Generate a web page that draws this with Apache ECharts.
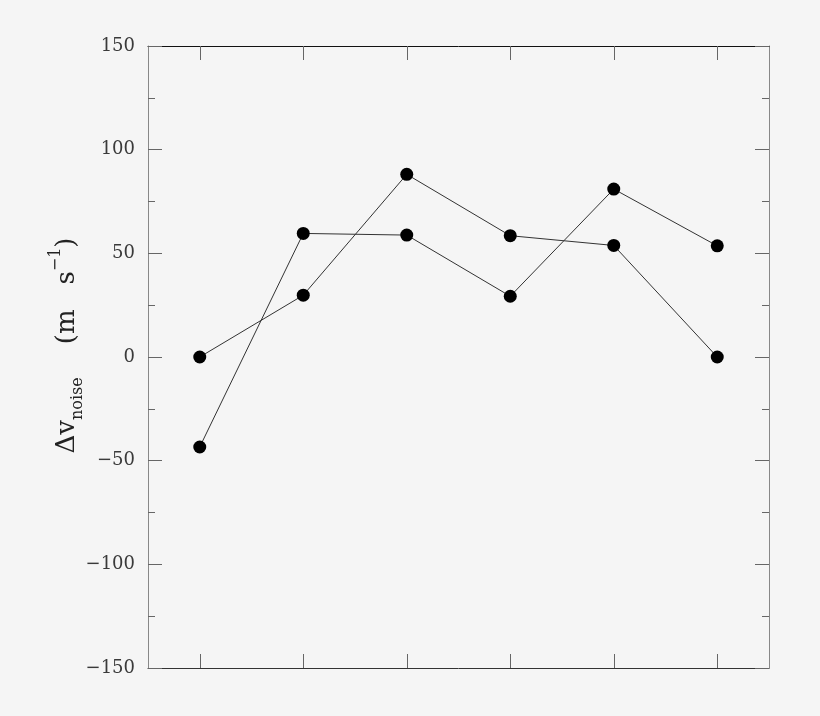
<!DOCTYPE html>
<html><head><meta charset="utf-8">
<script src="https://cdn.jsdelivr.net/npm/echarts@6/dist/echarts.min.js"></script>
<style>html,body{margin:0;padding:0;background:#f5f5f5}#c{width:820px;height:716px}</style>
</head><body><div id="c"></div>
<script>
const categories = ['1','2','3','4','5','6'];
const seriesA = [0, 29.8, 88.1, 58.5, 53.8, 0];
const seriesB = [-43.4, 59.6, 58.8, 29.3, 81.0, 53.6];
const yTicks = [-150, -100, -50, 0, 50, 100, 150];

const chart = echarts.init(document.getElementById('c'));
const font = 'DejaVu Serif';
const axisCol = '#666';
function xAx(pos, lineCol) {
  return {
    type: 'category', data: categories, position: pos, boundaryGap: true,
    axisLine: {show: true, onZero: false, lineStyle: {color: lineCol, width: 1}},
    axisTick: {show: true, inside: true, alignWithLabel: true, length: 14, lineStyle: {color: axisCol}},
    axisLabel: {show: false}, splitLine: {show: false}
  };
}
function yAx(pos, showLabels) {
  return {
    type: 'value', position: pos, min: yTicks[0], max: yTicks[yTicks.length-1], interval: 50,
    axisLine: {show: true, onZero: false, lineStyle: {color: '#888', width: 1}},
    axisTick: {show: true, inside: true, length: 14, lineStyle: {color: axisCol}},
    minorTick: {show: true, splitNumber: 2, length: 7, lineStyle: {color: axisCol}},
    axisLabel: {show: showLabels, margin: 13, color: '#3a3a3a', fontFamily: font, fontSize: 18,
      formatter: v => (v < 0 ? '\u2212' + Math.abs(v) : String(v))},
    splitLine: {show: false}
  };
}
const yLeft = yAx('left', true);
yLeft.name = '{a|\u0394v}{sub|noise}{a|    (m   s}{sup|\u22121}{a|)}';
yLeft.nameLocation = 'middle';
yLeft.nameGap = 62;
yLeft.nameRotate = 90;
yLeft.nameMoveOverlap = false;
yLeft.nameTextStyle = {
  padding: [0, 0, 0, 23],
  rich: {
    a: {fontFamily: font, fontSize: 26, color: '#222', lineHeight: 38},
    sub: {fontFamily: font, fontSize: 16, color: '#222', verticalAlign: 'bottom', lineHeight: 38},
    sup: {fontFamily: font, fontSize: 16, color: '#222', verticalAlign: 'top', lineHeight: 38}
  }
};
const dotStyle = {color: '#000'};
chart.setOption({
  backgroundColor: '#f5f5f5',
  animation: false,
  grid: {left: 148, right: 51, top: 46, bottom: 48},
  xAxis: [xAx('bottom', '#333'), xAx('top', '#111')],
  yAxis: [yLeft, yAx('right', false)],
  series: [
    {type: 'line', data: seriesA, xAxisIndex: 0, yAxisIndex: 0, symbol: 'circle', symbolSize: 13,
     itemStyle: dotStyle, lineStyle: {color: '#333', width: 1}},
    {type: 'line', data: seriesB, xAxisIndex: 0, yAxisIndex: 0, symbol: 'circle', symbolSize: 13,
     itemStyle: dotStyle, lineStyle: {color: '#333', width: 1}}
  ]
});
</script></body></html>
